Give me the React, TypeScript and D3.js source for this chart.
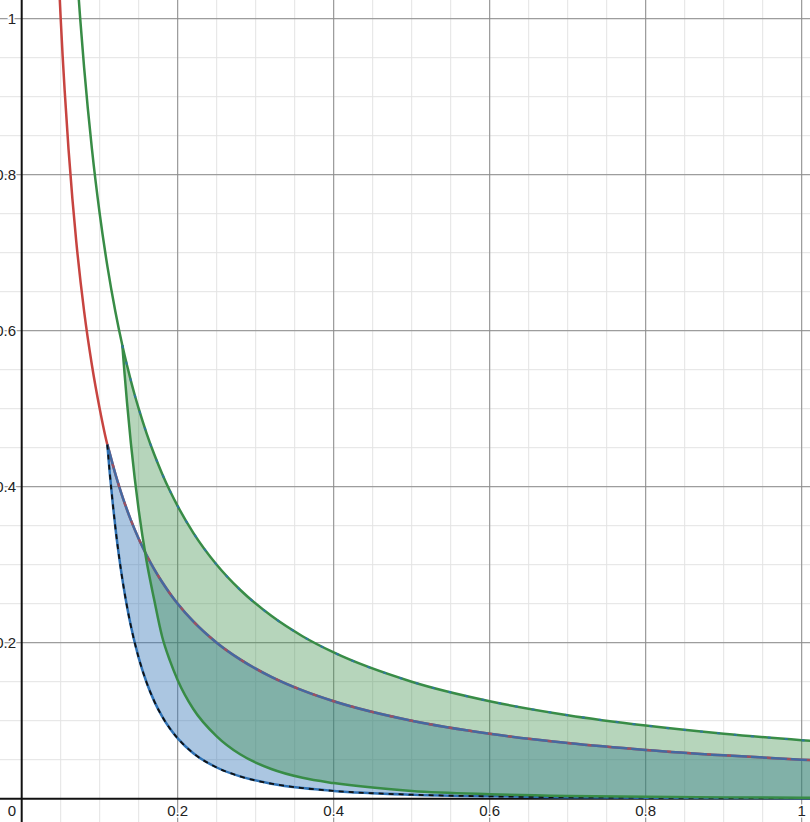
import React from 'react';
import * as d3 from 'd3';

// Red curve, steep part above where the blue region starts
const redX = [0.048, 0.05, 0.0525, 0.055, 0.06, 0.065, 0.07, 0.08, 0.09, 0.1, 0.1098];
const redY = [1.0417, 1.0, 0.952, 0.909, 0.833, 0.769, 0.714, 0.625, 0.556, 0.5, 0.454];

// Blue region: between red curve (top) and the steep lower curve
const blueX = [0.1098, 0.113, 0.117, 0.121, 0.125, 0.13, 0.135, 0.14, 0.15, 0.16, 0.17, 0.18, 0.19, 0.2,
  0.22, 0.25, 0.28, 0.32, 0.36, 0.4, 0.5, 0.6, 0.7, 0.8, 0.9, 1.0, 1.02];
const blueTop = [0.454, 0.4425, 0.4274, 0.4132, 0.4, 0.3846, 0.3704, 0.3571, 0.3333, 0.3125, 0.2941, 0.2778,
  0.2632, 0.25, 0.2273, 0.2, 0.1786, 0.1563, 0.1389, 0.125, 0.1, 0.0833, 0.0714, 0.0625, 0.0556, 0.05, 0.049];
const blueBottom = [0.454, 0.4165, 0.376, 0.34, 0.309, 0.2754, 0.2465, 0.2213, 0.1806, 0.1493, 0.1248, 0.1055,
  0.0899, 0.0773, 0.0583, 0.04, 0.0286, 0.0193, 0.01365, 0.01, 0.00518, 0.00302, 0.00192, 0.00129, 0.00091,
  0.00067, 0.00063];

// Green upper curve, part left of the green region
const greenLeftX = [0.072, 0.075, 0.08, 0.09, 0.1, 0.11, 0.12, 0.129];
const greenLeftY = [1.0417, 1.0, 0.9375, 0.8333, 0.75, 0.6818, 0.625, 0.5814];

// Green region
const greenX = [0.129, 0.132, 0.135, 0.14, 0.145, 0.15, 0.16, 0.17, 0.18, 0.19, 0.2, 0.22, 0.25, 0.28, 0.32,
  0.36, 0.4, 0.5, 0.6, 0.7, 0.8, 0.9, 1.0, 1.02];
const greenTop = [0.5814, 0.5682, 0.5556, 0.5357, 0.5172, 0.5, 0.4688, 0.4412, 0.4167, 0.3947, 0.375, 0.3409,
  0.3, 0.2679, 0.2344, 0.2083, 0.1875, 0.15, 0.125, 0.1071, 0.0938, 0.0833, 0.075, 0.0735];
const greenBottom = [0.5814, 0.5435, 0.508, 0.4555, 0.41, 0.37, 0.305, 0.2544, 0.208, 0.177, 0.152, 0.115,
  0.08, 0.0569, 0.0381, 0.0268, 0.02, 0.01, 0.0058, 0.0036, 0.0024, 0.0017, 0.00125, 0.0012];

const majorTicks = [0.2, 0.4, 0.6, 0.8, 1];
const tickLabels = ['0.2', '0.4', '0.6', '0.8', '1'];
const minorTicks = d3.range(1, 21).map(i => i * 0.05);

const RED = '#c74440';
const BLUE = '#2d70b3';
const GREEN = '#388c46';

const W = 810;
const H = 822;

type Pt = [number, number];
const zip = (xs: number[], ys: number[]): Pt[] => xs.map((x, i) => [x, ys[i]]);

export default function App() {
  const x = d3.scaleLinear().domain([-0.02782, 1.01064]).range([0, W]);
  const y = d3.scaleLinear().domain([-0.02987, 1.02397]).range([H, 0]);

  const line = d3.line<Pt>()
    .x(d => x(d[0]))
    .y(d => y(d[1]))
    .curve(d3.curveMonotoneX);

  const blueArea = d3.area<number>()
    .curve(d3.curveMonotoneX)
    .x((d, i) => x(blueX[i]))
    .y0((d, i) => y(blueBottom[i]))
    .y1((d, i) => y(blueTop[i]))(blueX) as string;
  const greenArea = d3.area<number>()
    .curve(d3.curveMonotoneX)
    .x((d, i) => x(greenX[i]))
    .y0((d, i) => y(greenBottom[i]))
    .y1((d, i) => y(greenTop[i]))(greenX) as string;

  const redPath = line(zip(redX, redY).concat(zip(blueX, blueTop).slice(1))) as string;
  const middlePath = line(zip(blueX, blueTop)) as string;
  const blueLowPath = line(zip(blueX, blueBottom)) as string;
  const greenTopPath = line(zip(greenLeftX, greenLeftY).concat(zip(greenX, greenTop).slice(1))) as string;
  const greenRegionTop = line(zip(greenX, greenTop)) as string;
  const greenLowPath = line(zip(greenX, greenBottom)) as string;

  const labelStyle = {
    fontFamily: '"Liberation Sans", Arial, sans-serif',
    fontSize: 15,
    fill: '#222',
    stroke: '#fff',
    strokeWidth: 3,
    paintOrder: 'stroke' as const,
  };

  return (
    <svg width={W} height={H} style={{ position: 'absolute', left: 0, top: 0, display: 'block', background: '#fff' }}>
      {/* minor grid */}
      {minorTicks.map(t => (
        <g key={'m' + t}>
          <line x1={x(t)} x2={x(t)} y1={0} y2={H} stroke="#e3e3e3" strokeWidth={1} />
          <line x1={0} x2={W} y1={y(t)} y2={y(t)} stroke="#e3e3e3" strokeWidth={1} />
        </g>
      ))}
      {/* major grid */}
      {majorTicks.map(t => (
        <g key={'M' + t}>
          <line x1={x(t)} x2={x(t)} y1={0} y2={H} stroke="#8c8c8c" strokeWidth={1} />
          <line x1={0} x2={W} y1={y(t)} y2={y(t)} stroke="#8c8c8c" strokeWidth={1} />
        </g>
      ))}
      {/* axes */}
      <line x1={x(0)} x2={x(0)} y1={0} y2={H} stroke="#111" strokeWidth={2} />
      <line x1={0} x2={W} y1={y(0)} y2={y(0)} stroke="#111" strokeWidth={2} />

      {/* regions */}
      <path d={blueArea} fill={BLUE} fillOpacity={0.4} />
      <path d={greenArea} fill={GREEN} fillOpacity={0.37} />

      {/* curves */}
      <path d={redPath} fill="none" stroke={RED} strokeWidth={2.5} />
      <path d={middlePath} fill="none" stroke={BLUE} strokeWidth={2.5} strokeOpacity={0.85} />
      <path d={middlePath} fill="none" stroke={RED} strokeWidth={2} strokeDasharray="4 16" strokeOpacity={0.7} />
      <path d={blueLowPath} fill="none" stroke={BLUE} strokeWidth={2.5} />
      <path d={blueLowPath} fill="none" stroke="#111" strokeWidth={1.8} strokeDasharray="5 5" />
      <path d={greenLowPath} fill="none" stroke={GREEN} strokeWidth={2.5} />
      <path d={greenTopPath} fill="none" stroke={GREEN} strokeWidth={2.5} />
      <path d={greenRegionTop} fill="none" stroke={BLUE} strokeWidth={2} strokeDasharray="3 14" strokeOpacity={0.8} />

      {/* tick labels */}
      {majorTicks.map((t, i) => (
        <text key={'xl' + t} x={x(t)} y={816} textAnchor="middle" style={labelStyle}>{tickLabels[i]}</text>
      ))}
      {majorTicks.map((t, i) => (
        <text key={'yl' + t} x={16} y={y(t)} textAnchor="end" dominantBaseline="central" style={labelStyle}>{tickLabels[i]}</text>
      ))}
      <text x={16} y={816} textAnchor="end" style={labelStyle}>0</text>
    </svg>
  );
}
